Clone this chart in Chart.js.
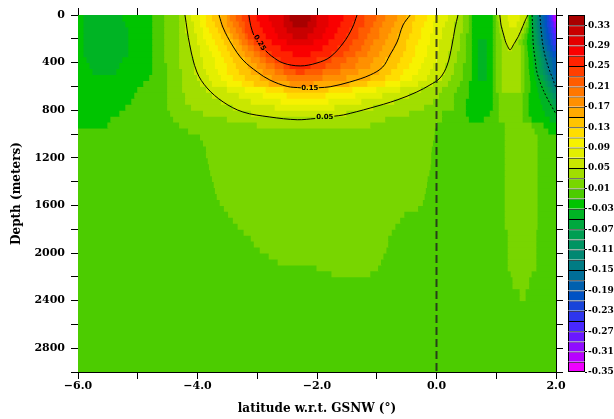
<!DOCTYPE html>
<html><head><meta charset="utf-8">
<script src="https://cdn.jsdelivr.net/npm/chart.js@4.4.1/dist/chart.umd.min.js"></script>
<style>
html,body{margin:0;padding:0;background:#fff;}
#wrap{position:relative;width:614px;height:419px;overflow:hidden;background:#fff;}
#main{position:absolute;left:0;top:0;width:614px;height:419px;}
#cbar{position:absolute;left:560px;top:0;width:54px;height:419px;}
</style></head><body>
<div id="wrap"><canvas id="main" width="614" height="419"></canvas><canvas id="cbar" width="54" height="419"></canvas></div>
<script>
// ---------- data ----------
const latRange = [-6, 2];
const depthRange = [0, 3000];

// colour levels (lower bound of each interval, top box = "> 0.33")
const levelCodes = ['A','B','C','D','E','F','G','H','I','J','K','L','M','N','O','P','Q','R','S','T','U','V','W','X','Y','Z','a','b','c','d','e','f','g','h','i'];
const levelLows = [0.33,0.31,0.29,0.27,0.25,0.23,0.21,0.19,0.17,0.15,0.13,0.11,0.09,0.07,0.05,0.03,0.01,-0.01,-0.03,-0.05,-0.07,-0.09,-0.11,-0.13,-0.15,-0.17,-0.19,-0.21,-0.23,-0.25,-0.27,-0.29,-0.31,-0.33,-0.35];
const levelColors = ['#a80000','#c80000','#e40000','#fa0000','#ff2200','#ff3f00','#ff5c00','#ff7700','#ff9000','#ffaa00','#ffc400','#ffdd00','#f7f200','#e3ef00','#c9e700','#a1de00','#78d600','#4ccc00','#00c400','#00b424','#00a83e','#009e52','#009462','#008872','#007c84','#006e98','#0060ae','#0052c4','#1844da','#2e36ee','#4828ff','#6a18ff','#900cff','#b800ff','#f000ff'];
const colorbarLabels = [0.33,0.29,0.25,0.21,0.17,0.13,0.09,0.05,0.01,-0.03,-0.07,-0.11,-0.15,-0.19,-0.23,-0.27,-0.31,-0.35];

// depth rows (m)
const depthEdges = [0,50,100,150,200,250,300,350,400,450,500,550,600,650,700,750,800,850,900,950,1000,1050,1100,1150,1200,1250,1300,1350,1400,1450,1500,1550,1600,1650,1700,1750,1800,1850,1900,1950,2000,2050,2100,2150,2200,2250,2300,2350,2400,2450,2500,2550,2600,2650,2700,2750,2800,2850,2900,2950,3000];

// each row: level code followed by the latitude where that run ends (runs start at -6)
const fieldRows = [
"S-5.9 T-5.25 S-4.75 R-4.55 Q-4.3 P-4.2 O-4.1 N-3.95 M-3.85 L-3.75 K-3.6 J-3.5 I-3.45 H-3.35 G-3.25 F-3.15 E-3 D-2.8 C-2.55 B-2.45 A-2.1 B-2 C-1.8 D-1.55 E-1.35 F-1.2 G-1 H-0.85 I-0.65 J-0.5 K-0.35 L-0.15 M0 N0.2 O0.35 P0.45 Q0.55 R0.6 S0.95 R1 Q1.03 P1.07 O1.2 N1.4 O1.52 Q1.55 S1.6 U1.63 V1.66 W1.69 X1.71 Y1.74 Z1.78 a1.82 b1.86 c1.89 d1.92 e1.94 f1.96 g1.98 h2",
"S-5.9 T-5.2 S-4.75 R-4.55 Q-4.3 P-4.2 O-4.05 N-3.95 M-3.85 L-3.7 K-3.6 J-3.5 I-3.4 H-3.3 G-3.2 F-3.1 E-2.95 D-2.75 C-2.55 B-2.4 A-2.15 B-2 C-1.8 D-1.6 E-1.4 F-1.2 G-1.05 H-0.9 I-0.7 J-0.55 K-0.4 L-0.2 M-0.05 N0.15 O0.3 P0.45 Q0.55 R0.6 S0.95 R1 Q1.05 P1.09 O1.22 N1.35 O1.46 P1.5 Q1.54 R1.56 S1.58 T1.6 U1.63 V1.66 W1.69 X1.72 Y1.74 Z1.78 a1.82 b1.86 c1.9 d1.93 e1.96 f1.98 g2",
"S-5.9 T-5.15 S-4.75 R-4.55 Q-4.3 P-4.2 O-4.05 N-3.9 M-3.8 L-3.65 K-3.55 J-3.45 I-3.35 H-3.25 G-3.2 F-3.1 E-2.9 D-2.7 C-2.5 B-2.05 C-1.85 D-1.65 E-1.45 F-1.3 G-1.1 H-0.95 I-0.75 J-0.6 K-0.4 L-0.25 M-0.05 N0.1 O0.3 P0.45 Q0.55 R0.6 S0.95 R1 Q1.06 P1.12 O1.42 P1.47 Q1.51 R1.55 S1.59 T1.61 U1.64 V1.67 W1.7 X1.73 Y1.76 Z1.8 a1.84 b1.88 c1.92 d1.95 e1.98 f2",
"S-5.9 T-5.15 S-4.75 R-4.55 Q-4.3 P-4.15 O-4 N-3.9 M-3.75 L-3.6 K-3.45 J-3.4 I-3.3 H-3.2 G-3.15 F-3.05 E-2.85 D-2.65 C-2.4 B-2.15 C-1.9 D-1.7 E-1.5 F-1.3 G-1.15 H-0.95 I-0.8 J-0.65 K-0.45 L-0.25 M-0.1 N0.1 O0.3 P0.4 Q0.5 R0.6 S0.95 R1 Q1.08 P1.14 O1.38 P1.43 Q1.48 R1.53 S1.58 T1.62 U1.65 V1.68 W1.71 X1.74 Y1.77 Z1.81 a1.85 b1.9 c1.94 d1.97 e2",
"S-5.9 T-5.15 S-4.75 R-4.55 Q-4.3 P-4.15 O-4 N-3.85 M-3.7 L-3.55 K-3.4 J-3.3 I-3.25 H-3.15 G-3.05 F-2.95 E-2.75 D-2.5 C-2.05 D-1.8 E-1.55 F-1.4 G-1.2 H-1.05 I-0.85 J-0.65 K-0.5 L-0.3 M-0.1 N0.05 O0.25 P0.4 Q0.5 R0.6 S0.7 T0.85 S0.95 R1 Q1.1 P1.17 O1.32 P1.38 Q1.45 R1.52 S1.58 T1.63 U1.66 V1.69 W1.72 X1.75 Y1.79 Z1.83 a1.88 b1.92 c1.96 d2",
"S-5.9 T-5.15 S-4.75 R-4.55 Q-4.3 P-4.1 O-3.95 N-3.8 M-3.65 L-3.5 K-3.35 J-3.25 I-3.15 H-3.05 G-2.95 F-2.85 E-2.6 D-1.9 E-1.65 F-1.45 G-1.25 H-1.1 I-0.9 J-0.7 K-0.5 L-0.35 M-0.15 N0.05 O0.25 P0.4 Q0.5 R0.6 S0.7 T0.85 S0.95 R1 Q1.1 P1.2 O1.27 P1.42 Q1.48 R1.53 S1.6 T1.65 U1.68 V1.72 W1.75 X1.78 Y1.82 Z1.86 a1.91 b1.95 c2",
"S-5.9 T-5.15 S-4.75 R-4.55 Q-4.3 P-4.1 O-3.95 N-3.75 M-3.6 L-3.45 K-3.3 J-3.2 I-3.05 H-2.95 G-2.85 F-2.75 E-2.4 D-2.1 E-1.75 F-1.55 G-1.35 H-1.15 I-0.95 J-0.75 K-0.55 L-0.35 M-0.15 N0 O0.2 P0.35 Q0.5 R0.6 S0.7 T0.85 S0.95 R1 Q1.1 P1.42 Q1.48 R1.54 S1.61 T1.66 U1.7 V1.74 W1.77 X1.81 Y1.85 Z1.9 a1.95 b2",
"S-5.85 T-5.25 S-4.75 R-4.55 Q-4.3 P-4.05 O-3.9 N-3.7 M-3.55 L-3.4 K-3.2 J-3.1 I-2.95 H-2.85 G-2.7 F-2.6 E-2 F-1.75 G-1.5 H-1.3 I-1.05 J-0.85 K-0.6 L-0.4 M-0.2 N0 O0.2 P0.35 Q0.5 R0.6 S0.7 T0.85 S0.95 R1 Q1.1 P1.42 Q1.48 R1.55 S1.62 T1.68 U1.72 V1.76 W1.8 X1.84 Y1.88 Z1.94 a2",
"S-5.8 T-5.3 S-4.75 R-4.5 Q-4.3 P-4.05 O-3.9 N-3.7 M-3.5 L-3.35 K-3.15 J-3 I-2.85 H-2.7 G-2.55 F-2.45 E-2.1 F-1.85 G-1.6 H-1.35 I-1.1 J-0.9 K-0.65 L-0.45 M-0.25 N-0.05 O0.15 P0.3 Q0.45 R0.6 S0.7 T0.85 S0.95 R1 Q1.1 P1.42 Q1.48 R1.55 S1.63 T1.69 U1.73 V1.77 W1.81 X1.85 Y1.9 Z1.95 a2",
"S-5.75 T-5.35 S-4.75 R-4.5 Q-4.25 P-4.05 O-3.85 N-3.65 M-3.5 L-3.3 K-3.1 J-2.9 I-2.7 H-2.55 G-2.35 F-2.2 G-1.9 H-1.6 I-1.3 J-0.95 K-0.75 L-0.55 M-0.3 N-0.1 O0.15 P0.3 Q0.45 R0.6 S0.7 T0.85 S0.95 R1 Q1.1 P1.42 Q1.48 R1.56 S1.64 T1.7 U1.74 V1.79 W1.83 X1.87 Y1.91 Z1.96 a2",
"S-4.8 R-4.5 Q-4.25 P-4 O-3.8 N-3.6 M-3.4 L-3.2 K-2.95 J-2.75 I-2.5 H-1.9 I-1.5 J-1.1 K-0.85 L-0.6 M-0.4 N-0.15 O0.1 P0.25 Q0.45 R0.6 S0.7 T0.85 S0.95 R1 Q1.1 P1.42 Q1.48 R1.57 S1.66 T1.74 U1.79 V1.83 W1.87 X1.91 Y1.95 Z2",
"S-4.9 R-4.5 Q-4.25 P-3.95 O-3.75 N-3.5 M-3.25 L-3.05 K-2.8 J-2.45 I-2.05 J-1.45 K-1.15 L-0.85 M-0.6 N-0.3 O-0.05 P0.2 Q0.4 R0.55 S0.95 R1 Q1.1 P1.42 Q1.48 R1.58 S1.68 T1.78 U1.83 V1.87 W1.91 X1.95 Y2",
"S-5 R-4.5 Q-4.25 P-3.85 O-3.5 N-3.2 M-2.85 L-2.55 K-1.8 L-1.4 M-1 N-0.6 O-0.25 P0.1 Q0.35 R0.55 S0.95 R1 Q1.1 P1.42 Q1.48 R1.58 S1.7 T1.82 U1.87 V1.91 W1.95 X2",
"S-5.05 R-4.5 Q-4.2 P-3.75 O-3.3 N-2.9 M-2.5 L-1.85 M-1.35 N-0.9 O-0.45 P0.05 Q0.3 R0.55 S0.95 R1.05 Q1.45 R1.55 S1.72 T1.86 U1.91 V1.95 W2",
"S-5.1 R-4.5 Q-4.2 P-3.6 O-3.1 N-2.6 M-1.8 N-1.25 O-0.7 P-0.05 Q0.3 R0.5 S0.95 R1.05 Q1.45 R1.55 S1.75 T1.9 U1.95 V2",
"S-5.2 R-4.5 Q-4.1 P-3.4 O-2.7 N-1.7 O-1.05 P-0.2 Q0.3 R0.5 S0.95 R1.05 Q1.45 R1.55 S1.78 T1.95 U2",
"S-5.3 R-4.45 Q-3.9 P-3.1 O-1.5 P-0.45 Q0.1 R0.5 S0.9 R1.05 Q1.45 R1.55 S1.82 T2",
"S-5.45 R-4.4 Q-3.5 P-0.85 Q0.1 R0.55 S0.8 R1.05 Q1.45 R1.6 S1.9 T2",
"S-5.5 R-4.3 Q-3 P-1.1 Q0 R1.15 Q1.6 R1.8 S2",
"R-4.15 Q-0.02 R1.15 Q1.65 R1.88 S2",
"R-3.95 Q-0.03 R1.15 Q1.7 R2",
"R-3.9 Q-0.05 R1.15 Q1.7 R2",
"R-3.85 Q-0.07 R1.15 Q1.7 R2",
"R-3.85 Q-0.08 R1.15 Q1.7 R2",
"R-3.82 Q-0.08 R1.15 Q1.7 R2",
"R-3.8 Q-0.09 R1.15 Q1.7 R2",
"R-3.78 Q-0.11 R1.15 Q1.7 R2",
"R-3.75 Q-0.14 R1.15 Q1.7 R2",
"R-3.72 Q-0.15 R1.15 Q1.7 R2",
"R-3.7 Q-0.17 R1.15 Q1.7 R2",
"R-3.67 Q-0.19 R1.15 Q1.7 R2",
"R-3.62 Q-0.22 R1.15 Q1.7 R2",
"R-3.55 Q-0.3 R1.15 Q1.7 R2",
"R-3.48 Q-0.53 R1.15 Q1.7 R2",
"R-3.4 Q-0.6 R1.15 Q1.7 R2",
"R-3.32 Q-0.68 R1.15 Q1.7 R2",
"R-3.22 Q-0.74 R1.2 Q1.68 R2",
"R-3.1 Q-0.8 R1.2 Q1.68 R2",
"R-3.05 Q-0.8 R1.2 Q1.68 R2",
"R-2.95 Q-0.83 R1.2 Q1.68 R2",
"R-2.8 Q-0.88 R1.2 Q1.68 R2",
"R-2.65 Q-0.92 R1.2 Q1.68 R2",
"R-2 Q-0.97 R1.2 Q1.68 R2",
"R-1.75 Q-1.1 R1.25 Q1.6 R2",
"R1.28 Q1.56 R2",
"R1.28 Q1.56 R2",
"R1.4 Q1.5 R2",
"R1.4 Q1.5 R2",
"R2","R2","R2","R2","R2","R2","R2","R2","R2","R2","R2","R2"
];

// contour lines [lat, depth]
const c025a = [[-3.14,0],[-3.11,90],[-3.06,168]];
const c025b = [[-2.86,300],[-2.76,345],[-2.57,403],[-2.28,428],[-2.0,403],[-1.78,353],[-1.56,235],[-1.41,109],[-1.33,0]];
const c015a = [[-3.64,0],[-3.57,109],[-3.42,252],[-3.24,378],[-3.0,479],[-2.79,546],[-2.5,600],[-2.27,612]];
const c015b = [[-1.97,611],[-1.78,603],[-1.45,563],[-1.11,504],[-0.9,437],[-0.78,336],[-0.66,227],[-0.56,84],[-0.44,0]];
const c005a = [[-4.21,0],[-4.13,252],[-4.01,479],[-3.84,613],[-3.57,731],[-3.24,815],[-2.79,857],[-2.33,880],[-2.03,870]];
const c005b = [[-1.71,850],[-1.56,840],[-1.11,782],[-0.66,714],[-0.33,647],[-0.11,588],[0.06,529],[0.18,420],[0.26,252],[0.31,109],[0.36,0]];
const c005v = [[1.06,0],[1.08,84],[1.12,160],[1.16,230],[1.23,294],[1.3,240],[1.37,180],[1.44,100],[1.49,40],[1.53,0]];
const cNeg005 = [[1.6,0],[1.61,120],[1.62,252],[1.65,370],[1.68,479],[1.76,600],[1.85,697],[1.93,770],[1.98,815],[2.0,830]];
const cNeg015 = [[1.73,0],[1.75,120],[1.78,252],[1.83,370],[1.9,479],[1.95,540],[1.98,588],[2.0,605]];
const refLatLine = [[0,0],[0,3000]];
const contourLabels = [
  {text:'0.25', lat:-2.96, depth:234, angle:58},
  {text:'0.15', lat:-2.12, depth:613, angle:0},
  {text:'0.05', lat:-1.87, depth:862, angle:0}
];

// ---------- chart ----------
Chart.defaults.font.family = '"DejaVu Serif", serif';
Chart.defaults.font.weight = 'bold';
Chart.defaults.color = '#000';

const colorOf = {};
levelCodes.forEach((c, i) => { colorOf[c] = levelColors[i]; });

const fillSets = fieldRows.map((row, r) => {
  const yc = (depthEdges[r] + depthEdges[r + 1]) / 2;
  let start = latRange[0];
  const data = [], colors = [];
  row.trim().split(/\s+/).forEach(tok => {
    const end = parseFloat(tok.slice(1));
    data.push({y: yc, x: [start, end]});
    colors.push(colorOf[tok[0]]);
    start = end;
  });
  return {type: 'bar', indexAxis: 'y', data, backgroundColor: colors, borderWidth: 0,
          grouped: false, barPercentage: 1, categoryPercentage: 1, inflateAmount: 0.5,
          order: 5, xAxisID: 'x', yAxisID: 'y'};
});

function lineSet(pts, opts) {
  return Object.assign({type: 'line', indexAxis: 'x', data: pts.map(p => ({x: p[0], y: p[1]})),
    borderColor: '#000', borderWidth: 1, pointRadius: 0, tension: 0.35, fill: false,
    order: 1, xAxisID: 'x', yAxisID: 'y'}, opts || {});
}
const lineSets = [
  lineSet(c025a), lineSet(c025b), lineSet(c015a), lineSet(c015b),
  lineSet(c005a), lineSet(c005b), lineSet(c005v, {tension: 0.2}),
  lineSet(cNeg005, {borderDash: [2, 2]}), lineSet(cNeg015, {borderDash: [2, 2]}),
  lineSet(refLatLine, {borderDash: [8, 4], borderWidth: 2, borderColor: 'rgba(30,30,30,0.8)', tension: 0, order: 0})
];

const labelPlugin = {
  id: 'contourLabels',
  afterDatasetsDraw(chart) {
    const {ctx} = chart;
    const xs = chart.scales.x, ys = chart.scales.y;
    ctx.save();
    ctx.font = 'bold 7px "DejaVu Sans"';
    ctx.fillStyle = '#000';
    ctx.textAlign = 'center';
    ctx.textBaseline = 'middle';
    contourLabels.forEach(l => {
      ctx.save();
      ctx.translate(xs.getPixelForValue(l.lat), ys.getPixelForValue(l.depth));
      ctx.rotate(l.angle * Math.PI / 180);
      ctx.fillText(l.text, 0, 0);
      ctx.restore();
    });
    ctx.restore();
  }
};

const gridOpts = {display: true, drawOnChartArea: false, drawTicks: true, tickLength: 7,
  color: '#000', tickColor: '#000', lineWidth: 1, offset: false};
const borderOpts = {display: true, color: '#000', width: 1};
const fmtLat = v => (Math.round(v) % 2 === 0) ? (v < 0 ? '\u2212' : '') + Math.abs(v).toFixed(1) : '';

new Chart(document.getElementById('main'), {
  type: 'bar',
  data: {datasets: [...lineSets, ...fillSets]},
  options: {
    indexAxis: 'y',
    responsive: false,
    animation: false,
    events: [],
    layout: {padding: 0},
    plugins: {legend: {display: false}, tooltip: {enabled: false}},
    scales: {
      x: {type: 'linear', position: 'bottom', min: latRange[0], max: latRange[1], offset: false,
          grid: gridOpts, border: borderOpts,
          ticks: {stepSize: 1, autoSkip: false, maxRotation: 0, padding: 1, font: {size: 11, weight: 'bold'}, color: '#000', callback: fmtLat},
          title: {display: true, text: 'latitude w.r.t. GSNW (°)', font: {size: 12, weight: 'bold'}, color: '#000', padding: {top: 0, bottom: 3}},
          afterFit: s => { s.height = 47; }},
      xTop: {type: 'linear', position: 'top', min: latRange[0], max: latRange[1], offset: false,
          grid: gridOpts, border: borderOpts, ticks: {display: false, stepSize: 1, autoSkip: false},
          afterFit: s => { s.height = 15; }},
      y: {type: 'linear', position: 'left', reverse: true, min: depthRange[0], max: depthRange[1], offset: false,
          grid: gridOpts, border: borderOpts,
          ticks: {stepSize: 200, autoSkip: false, padding: 6, font: {size: 11, weight: 'bold'}, color: '#000',
                  callback: v => (v % 400 === 0 && v < 3000) ? String(v) : ''},
          title: {display: true, text: 'Depth (meters)', font: {size: 12, weight: 'bold'}, color: '#000', padding: {top: 10, bottom: 0}},
          afterFit: s => { s.width = 78; }},
      yRight: {type: 'linear', position: 'right', reverse: true, min: depthRange[0], max: depthRange[1], offset: false,
          grid: gridOpts, border: borderOpts, ticks: {display: false, stepSize: 200, autoSkip: false},
          afterFit: s => { s.width = 58; }}
    }
  },
  plugins: [labelPlugin]
});

// ---------- colour bar ----------
new Chart(document.getElementById('cbar'), {
  type: 'bar',
  data: {
    labels: [''],
    datasets: levelCodes.map((c, k) => ({
      data: [[levelLows[k], levelLows[k] + 0.02]],
      backgroundColor: levelColors[k],
      borderColor: '#000',
      borderWidth: {top: 1, left: 1, right: 1, bottom: k === levelCodes.length - 1 ? 1 : 0},
      borderSkipped: false, grouped: false, barPercentage: 1, categoryPercentage: 1, inflateAmount: 0
    }))
  },
  options: {
    responsive: false, animation: false, events: [],
    layout: {padding: {left: 8, top: 15, bottom: 47, right: 0}},
    plugins: {legend: {display: false}, tooltip: {enabled: false}},
    scales: {
      x: {display: false},
      y: {position: 'right', min: -0.35, max: 0.35,
          grid: {display: true, drawOnChartArea: false, drawTicks: true, tickLength: 2, color: '#000'},
          border: {display: false},
          ticks: {padding: 1, autoSkip: false, font: {size: 9, weight: 'bold'}, color: '#000', callback: v => v.toFixed(2)},
          afterBuildTicks: s => { s.ticks = colorbarLabels.map(v => ({value: v})); },
          afterFit: s => { s.width = 29; }}
    }
  }
});
</script></body></html>
